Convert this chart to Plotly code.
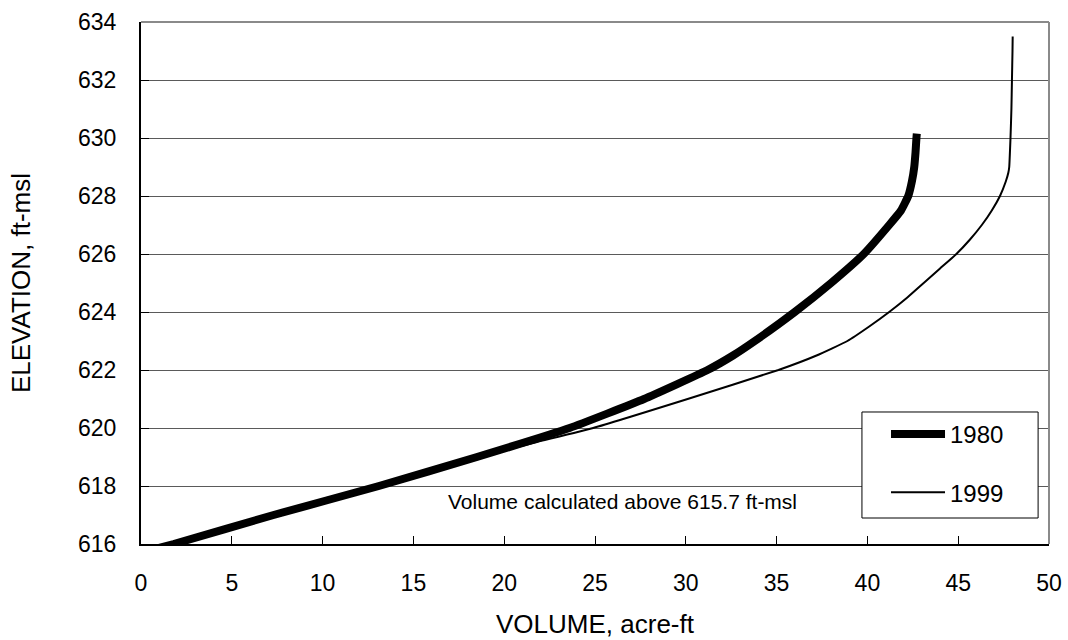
import plotly.graph_objects as go

# Elevation-volume curves (volume counted above 615.7 ft-msl)
elev_1980 = [615.7, 616, 617, 618, 619, 620, 621, 622, 622.5, 623, 624, 625, 626,
             627, 627.5, 628, 628.5, 629, 629.5, 630, 630.15]
vol_1980 = [0.0, 1.8, 7.3, 13.1, 18.5, 23.6, 27.7, 31.2, 32.6, 33.8, 36.0, 38.0, 39.8,
            41.2, 41.85, 42.25, 42.45, 42.58, 42.65, 42.7, 42.72]

elev_1999 = [615.7, 616, 617, 618, 619, 619.5, 620, 621, 622, 622.5, 623, 623.5, 624,
             624.5, 625, 625.5, 626, 626.5, 627, 627.5, 628, 628.5, 628.8, 629, 630,
             631, 632, 633, 633.5]
vol_1999 = [0.0, 1.8, 7.3, 13.1, 18.6, 21.7, 24.9, 30.1, 35.1, 37.2, 38.9, 40.1, 41.2,
            42.2, 43.1, 44.0, 44.9, 45.65, 46.3, 46.85, 47.3, 47.62, 47.76, 47.81, 47.88,
            47.93, 47.96, 47.99, 48.0]

x_ticks = list(range(0, 51, 5))
y_ticks = list(range(616, 635, 2))

FONT = "Liberation Sans, Arial, sans-serif"

fig = go.Figure()
fig.add_trace(go.Scatter(x=vol_1980, y=elev_1980, mode="lines", name="1980",
                         line=dict(color="black", width=8, shape="spline", smoothing=0.4),
                         legendgroup="a"))
fig.add_trace(go.Scatter(x=vol_1999, y=elev_1999, mode="lines", name="1999",
                         line=dict(color="black", width=2, shape="spline", smoothing=0.4),
                         legendgroup="b"))

fig.update_layout(
    width=1068, height=640,
    margin=dict(l=141, r=19, t=22, b=96),
    paper_bgcolor="white", plot_bgcolor="white",
    font=dict(family=FONT, size=22, color="black"),
    showlegend=True,
    legend=dict(x=0.8205, y=0.2529, xanchor="left", yanchor="top",
                borderwidth=0, bgcolor="rgba(0,0,0,0)",
                font=dict(size=24), tracegroupgap=24, itemwidth=54,
                traceorder="grouped"),
    xaxis=dict(range=[0, 50], tickvals=x_ticks, ticks="inside", ticklen=8,
               tickcolor="black", tickwidth=1, showline=True, linecolor="black",
               linewidth=2, showgrid=False, zeroline=False, automargin=False,
               tickfont=dict(size=23), ticklabelstandoff=17,
               title=dict(text="VOLUME, acre-ft", standoff=20)),
    yaxis=dict(range=[616, 634], tickvals=y_ticks, ticks="inside", ticklen=8,
               tickcolor="black", tickwidth=1, showline=True, linecolor="black",
               linewidth=2, showgrid=True, gridcolor="#5a5a5a", gridwidth=1,
               zeroline=False, automargin=False, tickfont=dict(size=23),
               ticklabelstandoff=18,
               title=dict(text="ELEVATION, ft-msl", standoff=40)),
    shapes=[
        # gray frame on the top and right of the plotting area
        dict(type="line", xref="paper", yref="paper", x0=0, x1=1, y0=1, y1=1,
             line=dict(color="#8a8a8a", width=2)),
        dict(type="line", xref="paper", yref="paper", x0=1, x1=1, y0=0, y1=1,
             line=dict(color="#8a8a8a", width=2)),
        # legend frame
        dict(type="rect", xref="paper", yref="paper", x0=0.794, x1=0.988,
             y0=0.0498, y1=0.2529, layer="above", fillcolor="white",
             line=dict(color="black", width=1)),
    ],
    annotations=[
        dict(x=26.5, y=617.45, xref="x", yref="y", showarrow=False,
             text="Volume calculated above 615.7 ft-msl",
             font=dict(size=21, family=FONT)),
    ],
)

fig.write_html("out.html")
